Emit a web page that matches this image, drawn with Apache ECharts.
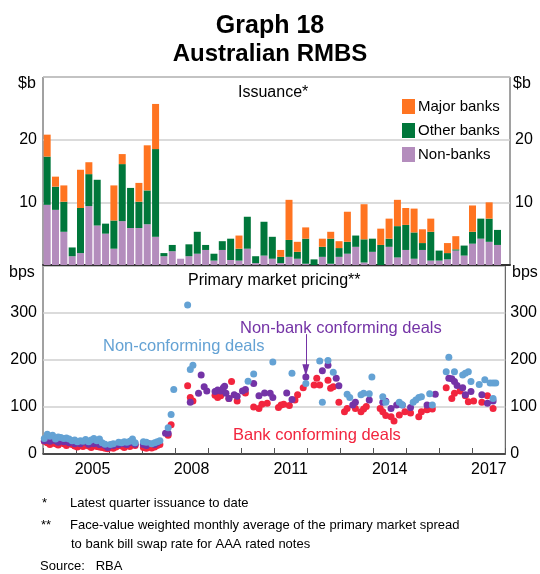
<!DOCTYPE html>
<html>
<head>
<meta charset="utf-8">
<script src="https://cdn.jsdelivr.net/npm/echarts@6/dist/echarts.min.js"></script>
<style>
  html, body { margin: 0; padding: 0; background: #fff; }
  #chart { width: 540px; height: 574px; }
</style>
</head>
<body>
<div id="chart"></div>
<script>
// quarterly issuance, $b (2004 Q1 .. 2017 Q3; 2017 Q4 left empty)
const years = [2004, 2005, 2006, 2007, 2008, 2009, 2010, 2011, 2012, 2013, 2014, 2015, 2016, 2017]
const quarters = []
years.forEach(y => { for (let q = 1; q <= 4; q++) quarters.push(y + ' Q' + q) })

const nonBanks = [9.6, 8.8, 5.3, 1.4, 1.9, 9.4, 6.3, 5.0, 2.6, 7.0, 5.9, 5.9, 6.5, 4.5, 1.4, 2.2, 1.0, 1.4, 1.8, 2.4,
  0.7, 2.4, 0.8, 0.7, 2.6, 0.3, 1.5, 1.0, 0.3, 1.3, 1.0, 0.2, 0, 1.3, 0.2, 1.3, 1.8, 2.9, 0.4, 2.1,
  0, 2.9, 1.2, 2.4, 1.0, 2.4, 0.7, 0.7, 0.9, 2.3, 1.5, 3.4, 4.2, 3.7, 3.2]
const otherBanks = [7.7, 3.7, 4.8, 1.4, 7.2, 5.1, 7.3, 1.6, 4.5, 9.1, 6.4, 4.2, 5.4, 14.0, 0.5, 1.0, 0, 1.9, 3.5, 0.8,
  1.1, 1.4, 3.4, 1.9, 5.1, 1.1, 5.4, 3.5, 1.0, 2.7, 1.1, 4.0, 0.9, 1.6, 4.0, 1.4, 1.9, 1.8, 3.7, 2.1,
  3.2, 1.3, 5.0, 4.0, 4.2, 1.1, 4.6, 1.6, 1.0, 0.2, 1.6, 1.9, 3.2, 3.7, 2.4]
const majorBanks = [3.5, 1.6, 2.6, 0, 6.1, 1.9, 0, 0, 5.6, 1.6, 0, 3.0, 7.2, 7.2, 0, 0, 0, 0, 0, 0,
  0, 0, 0, 2.1, 0, 0, 0, 0, 1.1, 6.4, 1.6, 1.8, 0, 1.3, 1.1, 1.1, 4.8, 0, 5.6, 0,
  2.6, 3.2, 4.2, 2.7, 3.8, 2.2, 2.1, 0, 1.6, 2.1, 0, 4.2, 0, 2.6, 0]

// monthly primary market spreads, [year, bps]
const nonConforming = [
  [2004.04, 33], [2004.13, 42], [2004.21, 38], [2004.29, 40], [2004.38, 32], [2004.46, 36], [2004.54, 35], [2004.63, 33],
  [2004.71, 34], [2004.79, 32], [2004.88, 28], [2004.96, 30], [2005.04, 26], [2005.13, 28], [2005.21, 27], [2005.29, 31],
  [2005.38, 26], [2005.46, 30], [2005.54, 33], [2005.63, 28], [2005.71, 32], [2005.79, 24], [2005.88, 21], [2006.04, 20],
  [2006.13, 22], [2006.29, 25], [2006.38, 24], [2006.46, 26], [2006.54, 25], [2006.63, 27], [2006.71, 32], [2006.79, 24],
  [2007.04, 26], [2007.13, 25], [2007.29, 22], [2007.38, 24], [2007.46, 26], [2007.54, 28],
  [2007.79, 56], [2007.88, 84], [2007.96, 137], [2008.38, 317], [2008.46, 180], [2008.54, 189], [2010.21, 155], [2010.38, 170],
  [2010.96, 196], [2011.54, 172], [2011.96, 150], [2012.38, 198], [2012.46, 110], [2012.63, 199], [2012.79, 174], [2013.21, 127],
  [2013.29, 120], [2013.63, 126], [2013.71, 129], [2013.88, 128], [2013.96, 164], [2014.29, 122], [2014.38, 110], [2014.79, 110],
  [2014.88, 105], [2015.21, 110], [2015.29, 115], [2015.38, 120], [2015.46, 122], [2015.71, 128], [2015.79, 104], [2016.21, 175],
  [2016.29, 206], [2016.46, 175], [2016.71, 168], [2016.79, 172], [2016.88, 175], [2016.96, 154], [2017.21, 148], [2017.38, 158],
  [2017.54, 151], [2017.63, 151], [2017.71, 151], [2017.63, 118]
]
const nonBankConforming = [
  [2004.04, 28], [2004.13, 30], [2004.21, 27], [2004.29, 32], [2004.38, 28], [2004.46, 25], [2004.54, 30], [2004.63, 26],
  [2004.71, 28], [2004.79, 24], [2004.88, 27], [2004.96, 22], [2005.04, 24], [2005.13, 22], [2005.29, 25], [2005.38, 21],
  [2005.46, 24], [2005.54, 22], [2005.63, 26], [2005.71, 20], [2005.88, 18], [2005.96, 14], [2006.13, 18], [2006.29, 20],
  [2006.46, 22], [2006.54, 20], [2006.63, 24], [2006.79, 21], [2007.04, 20], [2007.13, 18], [2007.21, 22], [2007.38, 20],
  [2007.46, 24], [2007.71, 44], [2007.79, 44],
  [2008.46, 110], [2008.71, 129], [2008.79, 168], [2008.88, 143], [2008.96, 134], [2009.21, 133], [2009.29, 136], [2009.38, 134],
  [2009.46, 141], [2009.5, 144], [2009.54, 129], [2009.63, 118], [2009.79, 126], [2009.88, 123], [2010.04, 134], [2010.13, 137],
  [2010.38, 150], [2010.54, 124], [2010.71, 130], [2010.88, 129], [2010.96, 120], [2011.38, 130], [2011.54, 116], [2011.96, 164],
  [2012.46, 177], [2012.63, 189], [2012.88, 161], [2012.96, 145], [2013.38, 104], [2013.46, 110], [2013.88, 115], [2014.29, 110],
  [2014.38, 112], [2014.54, 97], [2014.71, 104], [2014.88, 104], [2015.13, 99], [2015.63, 104], [2015.88, 127], [2016.29, 161],
  [2016.38, 160], [2016.46, 154], [2016.54, 146], [2016.71, 141], [2016.79, 126], [2016.96, 133], [2017.29, 126], [2017.46, 108],
  [2017.63, 113]
]
const bankConforming = [
  [2004.04, 27], [2004.13, 24], [2004.21, 20], [2004.29, 26], [2004.38, 22], [2004.46, 19], [2004.54, 25], [2004.63, 22],
  [2004.71, 18], [2004.79, 23], [2004.88, 20], [2004.96, 17], [2005.04, 15], [2005.13, 18], [2005.21, 16], [2005.29, 20],
  [2005.38, 17], [2005.46, 14], [2005.54, 18], [2005.63, 16], [2005.71, 15], [2005.79, 14], [2005.88, 12], [2005.96, 11],
  [2006.04, 14], [2006.13, 12], [2006.21, 15], [2006.38, 17], [2006.46, 14], [2006.54, 18], [2006.63, 16], [2006.71, 20],
  [2006.79, 18], [2007.04, 14], [2007.13, 12], [2007.21, 16], [2007.29, 13], [2007.38, 15], [2007.46, 18], [2007.54, 20],
  [2007.79, 40], [2007.88, 62],
  [2008.38, 145], [2008.46, 120], [2008.54, 113], [2009.21, 125], [2009.29, 120], [2009.38, 124], [2009.63, 118], [2009.71, 154],
  [2009.88, 113], [2010.13, 130], [2010.38, 100], [2010.54, 97], [2010.63, 106], [2010.79, 108], [2011.13, 99], [2011.21, 104],
  [2011.29, 106], [2011.46, 103], [2011.63, 115], [2011.71, 126], [2011.88, 141], [2012.21, 147], [2012.29, 161], [2012.38, 147],
  [2012.63, 157], [2012.71, 140], [2012.79, 143], [2012.96, 110], [2013.13, 90], [2013.21, 97], [2013.46, 97], [2013.63, 90],
  [2013.71, 96], [2013.79, 101], [2014.21, 97], [2014.29, 90], [2014.38, 82], [2014.54, 79], [2014.63, 70], [2014.79, 83],
  [2014.96, 90], [2015.13, 87], [2015.38, 79], [2015.46, 90], [2015.63, 94], [2015.79, 96], [2016.21, 141], [2016.38, 118],
  [2016.46, 129], [2016.63, 134], [2016.79, 124], [2016.88, 111], [2017.04, 113], [2017.29, 110], [2017.46, 124], [2017.63, 97]
]
const yearLabels = [2005, 2008, 2011, 2014, 2017]

const FONT = 'Liberation Sans, Arial, sans-serif'
const C = {
  major: '#ff7421',
  other: '#00773b',
  nonBank: '#b48dbd',
  blue: '#64a2d4',
  purple: '#7433a6',
  red: '#f2253e'
}

const chart = echarts.init(document.getElementById('chart'), null, { renderer: 'canvas' })

const gridLine = { show: true, lineStyle: { color: '#cfcfcf', width: 1.5 } }
const axisTxt = { color: '#000', fontSize: 16, fontFamily: FONT }

function txt(text, x, y, opts = {}) {
  return {
    type: 'text',
    left: x, top: y,
    style: Object.assign({ text, fill: '#000', font: '16px ' + FONT }, opts)
  }
}

const option = {
  animation: false,
  grid: [
    { left: 43, right: 30, top: 77, height: 188, show: true, borderColor: '#444', borderWidth: 1 },
    { left: 43, right: 30, top: 266, height: 188, show: true, borderColor: '#444', borderWidth: 1 }
  ],
  legend: {
    data: ['Major banks', 'Other banks', 'Non-banks'],
    orient: 'vertical',
    left: 397, top: 94,
    itemWidth: 13, itemHeight: 15, itemGap: 9,
    icon: 'rect',
    textStyle: { color: '#000', fontSize: 15, fontFamily: FONT, padding: [0, 0, 0, -2] }
  },
  xAxis: [
    {
      gridIndex: 0, type: 'category', data: quarters,
      axisLine: { lineStyle: { color: '#333', width: 2 } },
      axisTick: { show: false }, axisLabel: { show: false }
    },
    {
      gridIndex: 1, type: 'value', min: 2004, max: 2018, interval: 1,
      axisLine: { lineStyle: { color: '#222', width: 1.5 } },
      axisTick: { inside: true, length: 6, lineStyle: { color: '#555' } },
      splitLine: { show: false },
      axisLabel: Object.assign({}, axisTxt, {
        padding: [0, 0, 0, 33],
        formatter: v => yearLabels.includes(v) ? String(v) : ''
      })
    }
  ],
  yAxis: [
    {
      gridIndex: 0, type: 'value', min: 0, max: 30, interval: 10,
      axisLine: { show: false }, axisTick: { show: false }, splitLine: gridLine,
      axisLabel: Object.assign({}, axisTxt, { margin: 6, formatter: v => (v === 10 || v === 20) ? v : '' })
    },
    {
      gridIndex: 0, type: 'value', position: 'right', min: 0, max: 30, interval: 10,
      axisLine: { show: false }, axisTick: { show: false }, splitLine: { show: false },
      axisLabel: Object.assign({}, axisTxt, { margin: 5, formatter: v => (v === 10 || v === 20) ? v : '' })
    },
    {
      gridIndex: 1, type: 'value', min: 0, max: 400, interval: 100,
      axisLine: { show: false }, axisTick: { show: false }, splitLine: gridLine,
      axisLabel: Object.assign({}, axisTxt, { margin: 6, formatter: v => v < 400 ? v : '' })
    },
    {
      gridIndex: 1, type: 'value', position: 'right', min: 0, max: 400, interval: 100,
      axisLine: { show: false }, axisTick: { show: false }, splitLine: { show: false },
      axisLabel: Object.assign({}, axisTxt, { margin: 5, formatter: v => v < 400 ? v : '' })
    }
  ],
  series: [
    { name: 'Non-banks', type: 'bar', stack: 'iss', xAxisIndex: 0, yAxisIndex: 0, data: nonBanks,
      barWidth: 7, itemStyle: { color: C.nonBank } },
    { name: 'Other banks', type: 'bar', stack: 'iss', xAxisIndex: 0, yAxisIndex: 0, data: otherBanks,
      barWidth: 7, itemStyle: { color: C.other } },
    { name: 'Major banks', type: 'bar', stack: 'iss', xAxisIndex: 0, yAxisIndex: 0, data: majorBanks,
      barWidth: 7, itemStyle: { color: C.major } },
    { name: 'Bank conforming deals', type: 'scatter', xAxisIndex: 1, yAxisIndex: 2, data: bankConforming,
      symbolSize: 7, itemStyle: { color: C.red, opacity: 1 } },
    { name: 'Non-bank conforming deals', type: 'scatter', xAxisIndex: 1, yAxisIndex: 2, data: nonBankConforming,
      symbolSize: 7, itemStyle: { color: C.purple, opacity: 1 },
      markLine: {
        silent: true, symbol: ['none', 'triangle'], symbolSize: [7, 12], label: { show: false },
        lineStyle: { color: C.purple, width: 1, type: 'solid' },
        data: [[{ coord: [2011.96, 255] }, { coord: [2011.96, 178] }]]
      }
    },
    { name: 'Non-conforming deals', type: 'scatter', xAxisIndex: 1, yAxisIndex: 2, data: nonConforming,
      symbolSize: 7, itemStyle: { color: C.blue, opacity: 1 } }
  ],
  graphic: [
    txt('Graph 18', 'center', 14, { font: 'bold 25px ' + FONT }),
    txt('Australian RMBS', 'center', 42, { font: 'bold 24px ' + FONT }),
    txt('$b', 18, 76),
    txt('$b', 513, 76),
    txt('bps', 9, 265),
    txt('bps', 512, 265),
    txt('Issuance*', 238, 85),
    txt('Primary market pricing**', 188, 273),
    txt('Non-conforming deals', 103, 338, { fill: C.blue, font: '16.5px ' + FONT }),
    txt('Non-bank conforming deals', 240, 320, { fill: C.purple, font: '16.5px ' + FONT }),
    txt('Bank conforming deals', 233, 427, { fill: C.red, font: '16.5px ' + FONT }),
    txt('*', 42, 497, { font: '13px ' + FONT }),
    txt('Latest quarter issuance to date', 70, 497, { font: '13px ' + FONT }),
    txt('**', 41, 519, { font: '13px ' + FONT }),
    txt('Face-value weighted monthly average of the primary market spread', 70, 519, { font: '13px ' + FONT }),
    txt('to bank bill swap rate for AAA rated notes', 71, 538, { font: '13px ' + FONT }),
    txt('Source:   RBA', 40, 560, { font: '13px ' + FONT })
  ]
}

chart.setOption(option)
</script>
</body>
</html>
